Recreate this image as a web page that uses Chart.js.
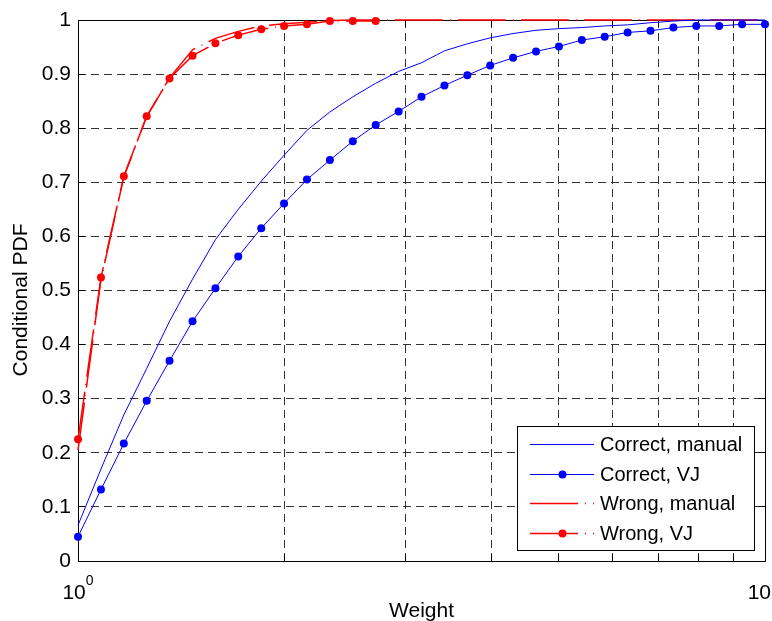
<!DOCTYPE html>
<html>
<head>
<meta charset="utf-8">
<title>Conditional PDF vs Weight</title>
<script src="https://cdn.jsdelivr.net/npm/chart.js@4.4.1/dist/chart.umd.min.js"></script>
<style>
  html, body { margin: 0; padding: 0; background: #fff; }
  #wrap { width: 772px; height: 621px; }
</style>
</head>
<body>
<div id="wrap"><canvas id="chart" width="772" height="621"></canvas></div>
<script>
// Weight samples (log-spaced grid)
const weights = [1, 1.080, 1.166, 1.259, 1.359, 1.468, 1.585, 1.711, 1.848, 1.995,
  2.154, 2.326, 2.512, 2.712, 2.929, 3.162, 3.415, 3.687, 3.981, 4.299,
  4.642, 5.012, 5.412, 5.843, 6.310, 6.813, 7.356, 7.943, 8.577, 9.261, 10];

const correctManual = [0.066, 0.170, 0.270, 0.356, 0.443, 0.521, 0.594, 0.650, 0.702, 0.750,
  0.796, 0.830, 0.858, 0.883, 0.905, 0.921, 0.943, 0.956, 0.967, 0.975,
  0.981, 0.984, 0.986, 0.989, 0.991, 0.995, 0.998, 1, 1, 1, 1];

const correctVJ = [0.045, 0.132, 0.217, 0.296, 0.370, 0.443, 0.504, 0.563, 0.615, 0.661,
  0.705, 0.741, 0.776, 0.806, 0.831, 0.858, 0.879, 0.898, 0.916, 0.930,
  0.942, 0.951, 0.963, 0.969, 0.977, 0.980, 0.986, 0.989, 0.989, 0.992, 0.992];

const wrongManual = [0.205, 0.520, 0.710, 0.822, 0.893, 0.945, 0.966, 0.979, 0.989, 0.993,
  0.996, 0.999, 1, 1, 1, 1, 1, 1, 1, 1,
  1, 1, 1, 1, 1, 1, 1, 1, 1, 1, 1];

const wrongVJ = [0.225, 0.524, 0.711, 0.822, 0.892, 0.934, 0.957, 0.972, 0.983, 0.989,
  0.992, 0.998, 0.998, 0.998];

const yTicks = [0, 0.1, 0.2, 0.3, 0.4, 0.5, 0.6, 0.7, 0.8, 0.9, 1];
const xGridTicks = [1, 2, 3, 4, 5, 6, 7, 8, 9, 10];
const xLabelTicks = [{ value: 1, exp: '0' }, { value: 10, exp: '1' }];

const FONT = "'Liberation Sans', Arial, Helvetica, sans-serif";
const FONT_SIZE = 21;
const LEGEND_FONT_SIZE = 20;
const GRID_COLOR = '#333';
const RED_DASH = [48, 7, 1, 7];

const toPoints = (vals) => vals.map((v, i) => ({ x: weights[i], y: v }));

// MATLAB-like box, inner ticks, x labels (10^n), axis titles and legend
const matlabAxes = {
  id: 'matlabAxes',
  beforeDatasetsDraw(chart) {
    const { ctx, chartArea: a, scales: { x, y } } = chart;
    const al = (p) => Math.round(p - 0.5) + 0.5;
    ctx.save();
    ctx.strokeStyle = '#000';
    ctx.lineWidth = 1;
    ctx.beginPath();
    xGridTicks.forEach(v => {
      const px = al(x.getPixelForValue(v));
      ctx.moveTo(px, a.bottom); ctx.lineTo(px, a.bottom - 7);
      ctx.moveTo(px, a.top); ctx.lineTo(px, a.top + 7);
    });
    yTicks.forEach(v => {
      const py = al(y.getPixelForValue(v));
      ctx.moveTo(a.left, py); ctx.lineTo(a.left + 7, py);
      ctx.moveTo(a.right, py); ctx.lineTo(a.right - 7, py);
    });
    ctx.stroke();
    ctx.strokeRect(al(a.left), al(a.top), Math.round(a.right - a.left), Math.round(a.bottom - a.top));
    ctx.restore();
  },
  afterDraw(chart) {
    const { ctx, chartArea: a, scales: { x } } = chart;
    ctx.save();
    ctx.fillStyle = '#000';
    ctx.textAlign = 'left';
    ctx.textBaseline = 'alphabetic';

    // x tick labels as 10^n
    xLabelTicks.forEach(t => {
      const px = x.getPixelForValue(t.value);
      ctx.font = `${FONT_SIZE}px ${FONT}`;
      const wBase = ctx.measureText('10').width;
      ctx.font = `14px ${FONT}`;
      const wExp = ctx.measureText(t.exp).width;
      let left = px - (wBase + wExp) / 2;
      left = Math.min(left, chart.width - wBase - 1);
      ctx.font = `${FONT_SIZE}px ${FONT}`;
      ctx.fillText('10', left, 599);
      ctx.font = `14px ${FONT}`;
      ctx.fillText(t.exp, left + wBase, 585);
    });

    // axis titles
    ctx.font = `${FONT_SIZE}px ${FONT}`;
    ctx.textAlign = 'center';
    ctx.fillText('Weight', (a.left + a.right) / 2, 617);
    ctx.save();
    ctx.translate(27, 300);
    ctx.rotate(-Math.PI / 2);
    ctx.fillText('Conditional PDF', 0, 0);
    ctx.restore();

    // legend box
    const box = { x: 517.5, y: 426.5, w: 237, h: 124 };
    ctx.fillStyle = '#fff';
    ctx.fillRect(box.x, box.y, box.w, box.h);
    ctx.strokeStyle = '#000';
    ctx.lineWidth = 1;
    ctx.strokeRect(box.x, box.y, box.w, box.h);

    const rowY = [444.5, 474.5, 503.5, 533.5];
    chart.data.datasets.forEach((ds, i) => {
      const yy = rowY[i];
      ctx.save();
      ctx.strokeStyle = ds.borderColor;
      ctx.lineWidth = ds.borderWidth;
      ctx.setLineDash(ds.borderDash || []);
      ctx.beginPath();
      ctx.moveTo(530, yy);
      ctx.lineTo(594, yy);
      ctx.stroke();
      ctx.restore();
      if (ds.pointRadius > 0) {
        ctx.fillStyle = ds.pointBackgroundColor;
        ctx.beginPath();
        ctx.arc(562.5, yy, ds.pointRadius, 0, Math.PI * 2);
        ctx.fill();
      }
      ctx.fillStyle = '#000';
      ctx.font = `${LEGEND_FONT_SIZE}px ${FONT}`;
      ctx.textAlign = 'left';
      ctx.textBaseline = 'middle';
      ctx.fillText(ds.label, 600, yy + 1);
    });
    ctx.restore();
  }
};

const ctx = document.getElementById('chart').getContext('2d');
const chart = new Chart(ctx, {
  type: 'line',
  data: {
    datasets: [
      {
        label: 'Correct, manual',
        data: toPoints(correctManual),
        borderColor: '#0000ff',
        borderWidth: 1,
        pointRadius: 0,
        clip: false
      },
      {
        label: 'Correct, VJ',
        data: toPoints(correctVJ),
        borderColor: '#0000ff',
        borderWidth: 1,
        pointRadius: 4,
        pointBackgroundColor: '#0000ff',
        pointBorderWidth: 0,
        clip: false
      },
      {
        label: 'Wrong, manual',
        data: toPoints(wrongManual),
        borderColor: '#ff0000',
        borderWidth: 1.5,
        borderDash: RED_DASH,
        pointRadius: 0,
        clip: false
      },
      {
        label: 'Wrong, VJ',
        data: toPoints(wrongVJ),
        borderColor: '#ff0000',
        borderWidth: 1.5,
        borderDash: RED_DASH,
        pointRadius: 4,
        pointBackgroundColor: '#ff0000',
        pointBorderWidth: 0,
        clip: false
      }
    ]
  },
  options: {
    responsive: false,
    animation: false,
    events: [],
    layout: { padding: { left: 0, right: 7, top: 20, bottom: 0 } },
    elements: { line: { tension: 0 } },
    plugins: {
      legend: { display: false },
      tooltip: { enabled: false }
    },
    scales: {
      x: {
        type: 'logarithmic',
        min: 1,
        max: 10,
        afterBuildTicks: (scale) => {
          scale.ticks = xGridTicks.map(v => ({ value: v }));
        },
        afterFit: (scale) => { scale.height = 60; },
        ticks: { display: false },
        grid: {
          drawTicks: false,
          lineWidth: 1,
          color: (c) => (c.tick && (c.tick.value === 1 || c.tick.value === 10)) ? 'rgba(0,0,0,0)' : GRID_COLOR
        },
        border: { display: false, dash: [8, 5] }
      },
      y: {
        type: 'linear',
        min: 0,
        max: 1,
        afterBuildTicks: (scale) => {
          scale.ticks = yTicks.map(v => ({ value: v }));
        },
        afterFit: (scale) => { scale.width = 78; },
        ticks: {
          padding: 7,
          color: '#000',
          font: { family: FONT, size: FONT_SIZE },
          callback: (v) => String(Math.round(v * 10) / 10)
        },
        grid: {
          drawTicks: false,
          lineWidth: 1,
          color: (c) => (c.tick && (c.tick.value === 0 || c.tick.value === 1)) ? 'rgba(0,0,0,0)' : GRID_COLOR
        },
        border: { display: false, dash: [8, 5] }
      }
    }
  },
  plugins: [matlabAxes]
});
</script>
</body>
</html>
